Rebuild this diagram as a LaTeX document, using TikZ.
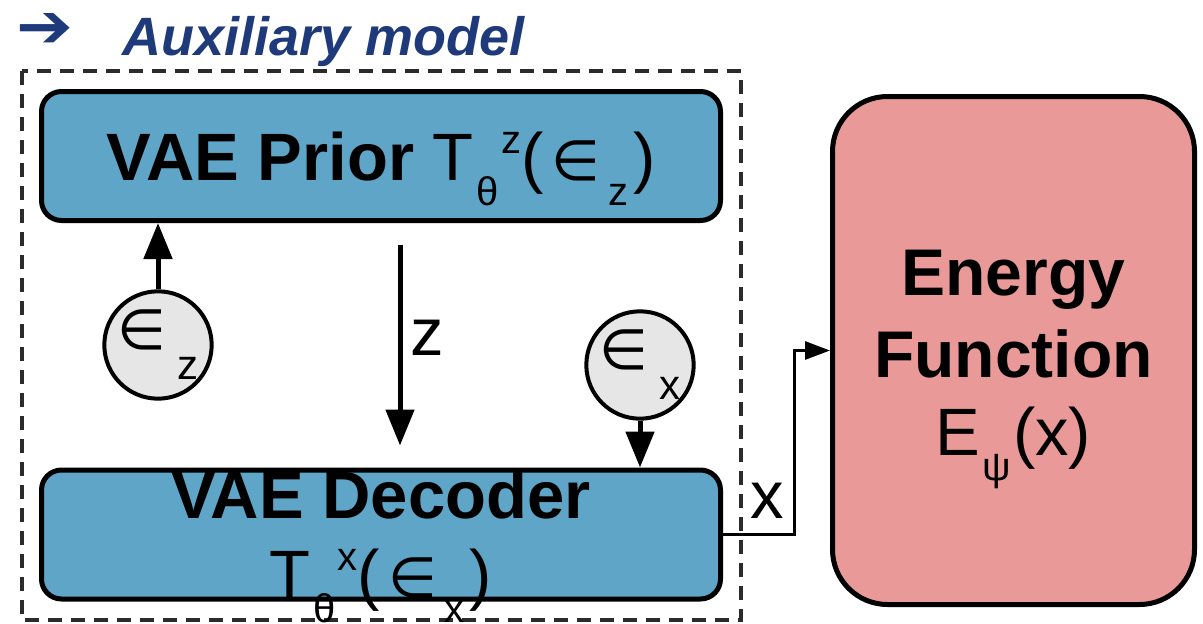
\documentclass[tikz,border=0pt]{standalone}
\usepackage{fontspec}
\setmainfont{Liberation Sans}
\newfontfamily\symfont{DejaVu Sans}
\usetikzlibrary{shapes, arrows.meta, positioning}

\definecolor{vaeblue}{HTML}{5EA5C8}
\definecolor{energypink}{HTML}{EA9999}
\definecolor{noisegray}{HTML}{E6E6E6}
\definecolor{auxblue}{HTML}{1F3A7A}
\definecolor{dashgray}{HTML}{2B2B2B}

\newcommand{\lowpart}[1]{\raisebox{-25pt}{\fontsize{40}{40}\selectfont #1}}
\newcommand{\highpart}[1]{\raisebox{27pt}{\fontsize{40}{40}\selectfont #1}}
\newcommand{\elemof}{{\symfont\fontsize{56}{56}\selectfont ∈}}
\newcommand{\noisetext}[1]{\elemof\hspace{12pt}\raisebox{-30pt}{\fontsize{42}{42}\selectfont #1}}

\begin{document}
\begin{tikzpicture}[x=1pt, y=-1pt, font=\fontsize{67}{67}\selectfont,
    vaebox/.style={draw, line width=5pt, rectangle, rounded corners=20pt, fill=vaeblue, minimum width=679pt, minimum height=129pt},
    energybox/.style={draw, line width=5pt, rectangle, rounded corners=55pt, fill=energypink, minimum width=362pt, minimum height=508pt},
    noise/.style={draw, line width=4pt, circle, fill=noisegray, minimum size=106pt, inner sep=0pt},
    txt/.style={anchor=base, inner sep=0pt},
    flow/.style={line width=5pt, -{Triangle[length=36pt, width=28pt]}},
    xflow/.style={line width=3pt, -{Triangle[length=25pt, width=18pt]}}]
        \useasboundingbox (0,0) rectangle (1203,624);

        % Draw the auxiliary frame
        \draw[dashgray, line width=3.5pt, dash pattern=on 14pt off 9pt] (22,71) rectangle (741,620);

        % Draw the title
        \node (auxarrow) [anchor=north west, inner sep=0pt, text=auxblue] at (16,13) {\resizebox{57pt}{34pt}{\symfont\bfseries ➔}};
        \node (auxtitle) [anchor=base west, inner sep=0pt, text=auxblue, font=\fontsize{54}{54}\selectfont\bfseries\itshape] at (122,55) {Auxiliary model};

        % Draw the blocks
        \node (prior)   [vaebox] at (381,156) {};
        \node (decoder) [vaebox] at (381,534.5) {};
        \node (energy)  [energybox] at (1013.5,350.5) {};
        \node (ez) [noise] at (158,345) {\noisetext{z}};
        \node (ex) [noise] at (640,365) {\noisetext{x}};

        % Add the texts
        \node (priortext)  [txt] at ([yshift=-24pt]prior.center) {\textbf{VAE Prior} T\hspace{3pt}\lowpart{θ}\hspace{2pt}\highpart{z}(\hspace{8pt}\elemof\hspace{8pt}\lowpart{z}\hspace{5pt})};
        \node (dectitle)   [txt, font=\fontsize{67}{67}\selectfont\bfseries] at ([yshift=16.5pt]decoder.center) {VAE Decoder};
        \node (decformula) [txt] at ([yshift=-62.5pt]decoder.center) {T\hspace{3pt}\lowpart{θ}\hspace{2pt}\highpart{x}(\hspace{8pt}\elemof\hspace{8pt}\lowpart{x}\hspace{5pt})};
        \node (etop)       [txt, font=\fontsize{66}{66}\selectfont\bfseries] at ([yshift=55.5pt]energy.center) {Energy};
        \node (emid)       [txt, font=\fontsize{66}{66}\selectfont\bfseries] at ([yshift=-26.5pt]energy.center) {Function};
        \node (eformula)   [txt] at ([yshift=-104.5pt]energy.center) {E\hspace{2pt}\lowpart{ψ}\hspace{2pt}(x)};
        \node (zlabel) [txt] at (427,355) {z};
        \node (xlabel) [txt] at (767,518) {x};

        % Draw the connecting lines
        \draw [flow] (ez) -- (ez |- prior.south);
        \draw [flow, shorten <=21.5pt, shorten >=22pt] ([xshift=19pt]prior.south) -- ([xshift=19pt]decoder.north);
        \draw [flow] (ex) -- (ex |- decoder.north);
        \coordinate (xbend) at (794,350.5);
        \draw [xflow] (decoder.east) -| (xbend) -- (energy.west);
    \end{tikzpicture}
\end{document}
